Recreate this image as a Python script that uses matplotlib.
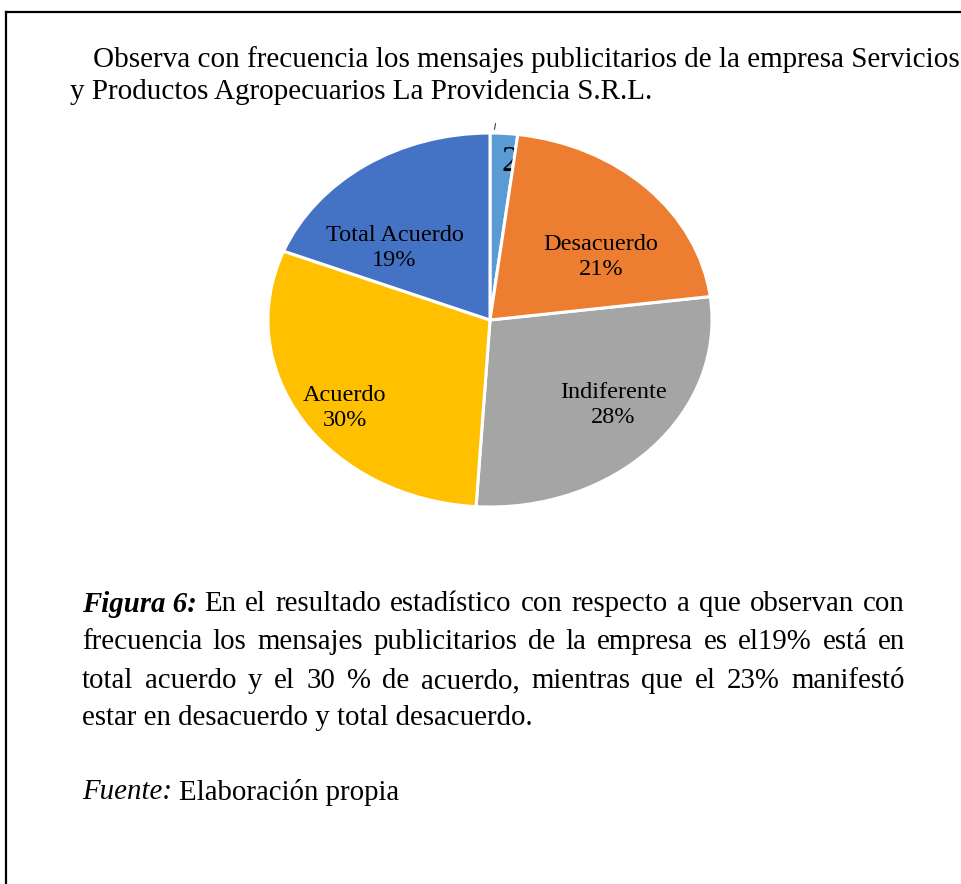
import matplotlib
matplotlib.use("Agg")
import matplotlib.pyplot as plt
from matplotlib.lines import Line2D

plt.rcParams['font.family'] = ['Liberation Serif', 'DejaVu Serif']

# data
categories = ['Total desacuerdo', 'Desacuerdo', 'Indiferente', 'Acuerdo', 'Total Acuerdo']
values = [2, 21, 28, 30, 19]
colors = ['#5B9BD5', '#ED7D31', '#A5A5A5', '#FFC000', '#4472C4']
shown = ['2', 'Desacuerdo\n21%', 'Indiferente\n28%', 'Acuerdo\n30%', 'Total Acuerdo\n19%']

title_lines = ['Observa con frecuencia los mensajes publicitarios de la empresa Servicios',
               'y Productos Agropecuarios La Providencia S.R.L.']
caption_lines = ['En el resultado estadístico con respecto a que observan con',
                 'frecuencia los mensajes publicitarios de la empresa es el19% está en',
                 'total acuerdo y el 30 % de acuerdo, mientras que el 23% manifestó',
                 'estar en desacuerdo y total desacuerdo.']

W, H = 962, 884
fig = plt.figure(figsize=(W / 100, H / 100), dpi=100)


def fx(px):
    return px / W


def fy(py):
    return 1 - py / H


# frame
fig.add_artist(Line2D([fx(6), fx(6)], [fy(12), 0], color='black', lw=1.6))
fig.add_artist(Line2D([fx(6), 1], [fy(12), fy(12)], color='black', lw=1.6))

# title
fig.text(fx(93), fy(60), title_lines[0], fontsize=21, va='center', ha='left')
fig.text(fx(70), fy(92), title_lines[1], fontsize=21, va='center', ha='left')

# pie (elliptical)
cx, cy, rx, ry = 490, 320, 222, 187
ax = fig.add_axes([fx(cx - rx), fy(cy + ry), 2 * rx / W, 2 * ry / H])
wedges, _ = ax.pie(values, colors=colors, startangle=90, counterclock=False,
                   radius=1, wedgeprops=dict(edgecolor='white', linewidth=2.2))
ax.set_aspect('auto')
ax.set_xlim(-1, 1)
ax.set_ylim(-1, 1)
ax.axis('off')

label_pos = [(0.09, 0.84), (0.50, 0.335), (0.555, -0.455), (-0.655, -0.47), (-0.43, 0.385)]
for i, (txt, (lx, ly)) in enumerate(zip(shown, label_pos)):
    ax.text(lx, ly, txt, ha='center', va='center', fontsize=17.5 if i else 25,
            linespacing=1.25, zorder=1.5 if i == 0 else 3)
for i, w in enumerate(wedges):
    w.set_zorder(2 if i == 1 else 1)
ax.plot([0.02, 0.025], [1.02, 1.05], color='#404040', lw=0.8, clip_on=False)

# caption, justified
fig.canvas.draw()
renderer = fig.canvas.get_renderer()
left, right = 82, 905
fs = 20.8
ys = [604, 642, 681, 718]


def width_px(s, **kw):
    t = fig.text(0, 0, s, fontsize=fs, **kw)
    w = t.get_window_extent(renderer).width
    t.remove()
    return w


lead = 'Figura 6:'
lead_w = width_px(lead, fontweight='bold', style='italic')
fig.text(fx(left), fy(ys[0]), lead, fontsize=fs, fontweight='bold', style='italic', va='center')
space_w = width_px('a a') - width_px('aa')
for li, (line, y) in enumerate(zip(caption_lines, ys)):
    x0 = left + (lead_w + space_w if li == 0 else 0)
    words = line.split(' ')
    if li == len(caption_lines) - 1:
        fig.text(fx(x0), fy(y), line, fontsize=fs, va='center')
        continue
    ws = [width_px(w) for w in words]
    gap = (right - x0 - sum(ws)) / (len(words) - 1)
    x = x0
    for w, wd in zip(words, ws):
        fig.text(fx(x), fy(y), w, fontsize=fs, va='center')
        x += wd + gap

fig.text(fx(left), fy(792), 'Fuente:', fontsize=fs, style='italic', va='center')
fw = width_px('Fuente: ', style='italic')
fig.text(fx(left + fw), fy(792), 'Elaboración propia', fontsize=fs, va='center')

fig.savefig('out.png', dpi=100)
